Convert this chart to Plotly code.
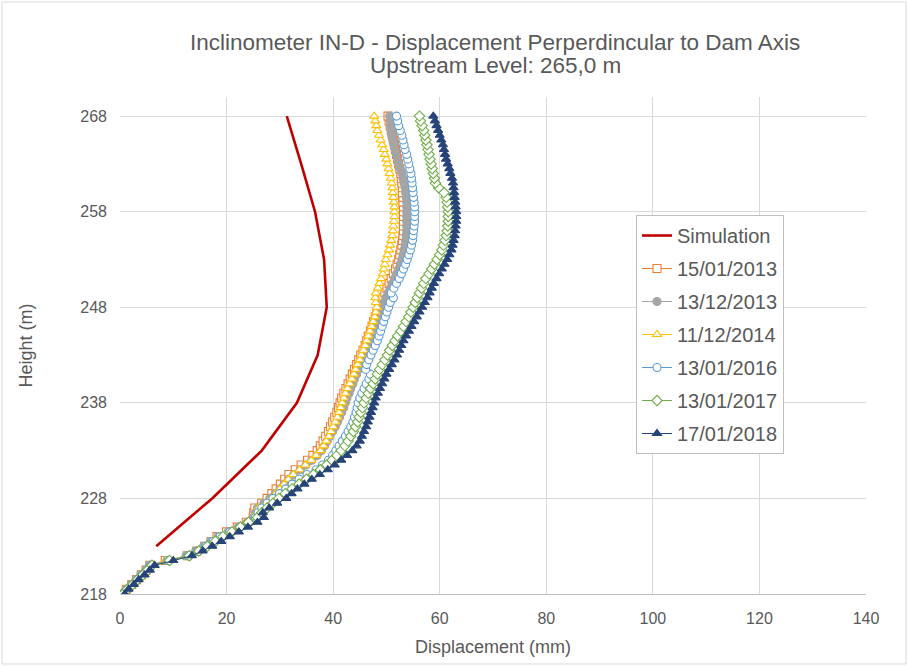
import numpy as np
import plotly.graph_objects as go

heights = [round(218 + 0.5 * i, 1) for i in range(101)]

sim_heights = [223, 228, 233, 238, 243, 248, 253, 258, 263, 268]
sim_disp = [6.8, 17.3, 26.6, 33.2, 37.1, 38.8, 38.3, 36.6, 34.0, 31.3]

d_2013a = [0.5, 1.2, 2.2, 3.1, 4.0, 4.9, 5.6, 8.5, 12.6, 14.4,
           15.9, 17.1, 18.2, 20.0, 22.0, 23.7, 25.0, 25.1, 25.3, 26.6,
           27.6, 28.5, 29.3, 30.1, 30.9, 31.7, 32.9, 34.0, 35.2, 36.2,
           37.0, 37.6, 38.1, 38.6, 39.1, 39.5, 39.9, 40.3, 40.7, 41.0,
           41.3, 41.6, 42.0, 42.4, 42.8, 43.2, 43.6, 44.0, 44.4, 44.8,
           45.2, 45.6, 46.0, 46.3, 46.6, 47.0, 47.3, 47.6, 47.9, 48.2,
           48.5, 48.9, 49.3, 49.7, 50.1, 50.5, 50.9, 51.3, 51.7, 52.0,
           52.3, 52.5, 52.7, 52.9, 53.0, 53.1, 53.2, 53.2, 53.2, 53.2,
           53.2, 53.2, 53.1, 53.1, 53.0, 53.0, 52.9, 52.8, 52.7, 52.5,
           52.3, 52.1, 51.9, 51.7, 51.5, 51.3, 51.1, 50.9, 50.7, 50.5,
           50.3]

d_2013b = [0.4, 1.1, 2.1, 3.0, 3.9, 4.8, 5.5, 8.8, 12.4, 14.2,
           15.7, 17.0, 18.4, 20.3, 22.2, 23.9, 25.1, 25.4, 25.8, 27.0,
           28.1, 29.1, 30.0, 30.8, 31.7, 32.6, 33.8, 34.9, 36.0, 37.0,
           37.8, 38.4, 38.9, 39.4, 39.9, 40.4, 40.8, 41.2, 41.6, 42.0,
           42.3, 42.6, 43.0, 43.3, 43.7, 44.0, 44.4, 44.8, 45.2, 45.6,
           46.0, 46.3, 46.6, 46.9, 47.2, 47.5, 47.8, 48.1, 48.4, 48.8,
           49.1, 49.5, 49.9, 50.3, 50.7, 51.1, 51.5, 51.9, 52.3, 52.6,
           52.9, 53.1, 53.3, 53.5, 53.6, 53.7, 53.8, 53.8, 53.8, 53.8,
           53.8, 53.8, 53.8, 53.7, 53.6, 53.5, 53.3, 53.1, 52.9, 52.6,
           52.3, 52.1, 51.8, 51.6, 51.4, 51.2, 51.0, 50.9, 50.8, 50.7,
           50.6]

d_2014 = [0.6, 1.3, 2.3, 3.2, 4.1, 5.0, 5.7, 8.6, 12.7, 14.6,
          16.1, 17.4, 18.6, 20.5, 22.4, 24.1, 25.3, 25.6, 26.0, 27.3,
          28.3, 29.2, 30.0, 30.8, 31.6, 32.5, 33.7, 34.8, 35.9, 36.8,
          37.6, 38.2, 38.7, 39.2, 39.6, 40.0, 40.4, 40.8, 41.1, 41.4,
          41.7, 42.0, 42.3, 42.7, 43.1, 43.5, 43.9, 44.2, 44.6, 45.0,
          45.3, 45.7, 46.0, 46.3, 46.6, 46.9, 47.2, 47.5, 47.8, 48.0,
          48.2, 48.0, 47.9, 48.0, 48.4, 48.7, 49.0, 49.3, 49.5, 49.7,
          49.9, 50.2, 50.5, 50.7, 50.9, 51.1, 51.2, 51.3, 51.4, 51.5,
          51.5, 51.5, 51.4, 51.3, 51.2, 51.1, 51.0, 50.8, 50.6, 50.4,
          50.2, 50.0, 49.7, 49.5, 49.2, 48.9, 48.6, 48.3, 48.1, 47.9,
          47.7]

d_2016 = [0.7, 1.4, 2.4, 3.3, 4.2, 5.1, 5.8, 9.0, 12.8, 14.6,
          16.1, 17.5, 18.8, 20.6, 22.5, 24.2, 25.4, 25.9, 26.6, 27.6,
          28.7, 29.9, 31.1, 32.3, 33.6, 35.1, 36.8, 38.0, 39.1, 39.9,
          40.5, 41.1, 41.7, 42.3, 42.8, 43.3, 43.7, 44.0, 44.3, 44.5,
          44.7, 45.0, 45.4, 45.8, 46.2, 46.7, 47.0, 46.1, 46.3, 46.7,
          47.1, 47.5, 47.9, 48.3, 48.6, 48.9, 49.2, 49.5, 49.8, 50.1,
          50.4, 50.7, 51.3, 50.9, 51.4, 51.9, 52.4, 52.8, 53.2, 53.6,
          53.9, 54.2, 54.5, 54.7, 54.9, 55.0, 55.1, 55.2, 55.3, 55.3,
          55.3, 55.3, 55.2, 55.1, 55.0, 54.9, 54.8, 54.7, 54.6, 54.4,
          54.2, 54.0, 53.8, 53.5, 53.3, 53.1, 52.9, 52.6, 52.3, 52.1,
          51.9]

d_2017 = [0.6, 1.4, 2.4, 3.3, 4.3, 5.2, 6.0, 9.3, 13.0, 14.8,
          16.4, 17.9, 19.3, 21.0, 22.6, 24.1, 25.8, 26.6, 27.6, 28.7,
          29.8, 31.0, 32.3, 33.6, 35.0, 36.3, 37.6, 38.8, 39.8, 40.7,
          41.5, 42.2, 42.8, 43.3, 43.8, 44.2, 44.6, 44.9, 45.2, 45.5,
          45.8, 46.2, 46.6, 47.0, 47.5, 47.9, 48.3, 48.7, 49.2, 49.7,
          50.2, 50.6, 51.1, 51.6, 52.1, 52.7, 53.2, 53.7, 54.2, 54.6,
          55.0, 55.4, 55.8, 56.2, 56.6, 57.0, 57.4, 58.0, 58.5, 59.0,
          59.5, 60.0, 60.4, 60.7, 61.0, 61.2, 61.4, 61.5, 61.6, 61.6,
          61.6, 61.5, 61.4, 61.2, 60.8, 59.8, 59.2, 59.0, 58.8, 58.6,
          58.4, 58.2, 58.0, 57.8, 57.6, 57.4, 57.2, 57.0, 56.7, 56.4,
          56.2]

d_2018 = [0.9, 1.6, 2.6, 3.5, 4.6, 5.6, 6.5, 10.0, 13.5, 15.5,
          17.3, 19.0, 20.6, 22.3, 24.0, 25.8, 27.0, 26.8, 28.0, 29.5,
          31.2, 32.2, 33.3, 34.6, 36.0, 37.5, 39.0, 40.3, 41.5, 42.6,
          43.6, 44.4, 45.0, 45.4, 45.8, 46.2, 46.5, 46.8, 47.1, 47.4,
          47.7, 48.0, 48.4, 48.8, 49.2, 49.6, 50.0, 50.5, 51.0, 51.5,
          52.0, 52.4, 52.8, 53.2, 53.7, 54.2, 54.7, 55.2, 55.7, 56.2,
          56.7, 57.2, 57.7, 58.1, 58.5, 58.9, 59.4, 59.9, 60.4, 60.9,
          61.4, 61.8, 62.2, 62.4, 62.6, 62.8, 62.9, 63.0, 63.1, 63.1,
          63.1, 63.0, 62.9, 62.8, 62.7, 62.6, 62.5, 62.3, 62.0, 61.8,
          61.5, 61.2, 61.0, 60.8, 60.6, 60.3, 60.0, 59.7, 59.4, 59.1,
          58.8]

x_ticks = [0, 20, 40, 60, 80, 100, 120, 140]
y_ticks = [218, 228, 238, 248, 258, 268]

title_lines = ["Inclinometer IN-D - Displacement Perperdincular to Dam Axis",
               "Upstream Level: 265,0 m"]

FONT = "Liberation Sans, Arial, sans-serif"
TXT = "#595959"

L, R, T, B = 120, 42, 97, 72
PW, PH = 908 - L - R, 666 - T - B

fig = go.Figure()

fig.add_trace(go.Scatter(
    x=sim_disp, y=sim_heights, mode="lines", name="Simulation",
    line=dict(color="#C00000", width=2.6), legendgroup="g0"))

series = [
    ("15/01/2013", d_2013a, "#ED7D31", "square", False),
    ("13/12/2013", d_2013b, "#A5A5A5", "circle", True),
    ("11/12/2014", d_2014, "#FFC000", "triangle-up", False),
    ("13/01/2016", d_2016, "#5B9BD5", "circle", False),
    ("13/01/2017", d_2017, "#70AD47", "diamond", False),
    ("17/01/2018", d_2018, "#264478", "triangle-up", True),
]
for i, (name, vals, col, sym, filled) in enumerate(series):
    fig.add_trace(go.Scatter(
        x=vals, y=heights, mode="lines+markers", name=name,
        legendgroup="g%d" % (i + 1),
        line=dict(color=col, width=1),
        marker=dict(symbol=sym, size=8,
                    color=col if filled else "white",
                    line=dict(color=col, width=1.1))))

title_x = (PW / 2 + 2) / PW
annotations = [
    dict(text=title_lines[0], xref="paper", yref="paper", x=title_x,
         y=1 + (T - 42) / PH, xanchor="center", yanchor="middle", showarrow=False,
         font=dict(family=FONT, size=22.5, color=TXT)),
    dict(text=title_lines[1], xref="paper", yref="paper", x=title_x,
         y=1 + (T - 66) / PH, xanchor="center", yanchor="middle", showarrow=False,
         font=dict(family=FONT, size=22.5, color=TXT)),
]

fig.update_layout(
    width=908, height=666,
    paper_bgcolor="white", plot_bgcolor="white",
    margin=dict(l=L, r=R, t=T, b=B),
    font=dict(family=FONT, color=TXT, size=16),
    annotations=annotations,
    showlegend=True,
    legend=dict(
        x=(636 - L) / PW, xanchor="left", y=(666 - B - 215) / PH, yanchor="top",
        bgcolor="white", bordercolor="#BFBFBF", borderwidth=1,
        font=dict(family=FONT, size=20, color=TXT),
        tracegroupgap=4, itemwidth=30),
    shapes=[dict(type="rect", xref="paper", yref="paper",
                 x0=-(L - 2) / PW, x1=1 + (R - 2) / PW, y0=-(B - 2) / PH, y1=1 + (T - 2) / PH,
                 line=dict(color="#D9D9D9", width=1), fillcolor="rgba(0,0,0,0)",
                 layer="below")],
)

fig.update_xaxes(
    range=[0, 140], tickvals=x_ticks, ticktext=[str(v) for v in x_ticks],
    showgrid=True, gridcolor="#D9D9D9", gridwidth=1,
    showline=True, linecolor="#BFBFBF", linewidth=1,
    zeroline=False, ticks="", ticklabelstandoff=10,
    tickfont=dict(size=16, color=TXT),
    title=dict(text="Displacement (mm)", font=dict(size=18, color=TXT), standoff=14))

fig.update_yaxes(
    range=[218, 270], tickvals=y_ticks, ticktext=[str(v) for v in y_ticks],
    showgrid=True, gridcolor="#D9D9D9", gridwidth=1,
    showline=False, zeroline=False, ticks="", ticklabelstandoff=12,
    tickfont=dict(size=16, color=TXT),
    title=dict(text="Height (m)", font=dict(size=18, color=TXT), standoff=42))

fig.write_html("out.html")
